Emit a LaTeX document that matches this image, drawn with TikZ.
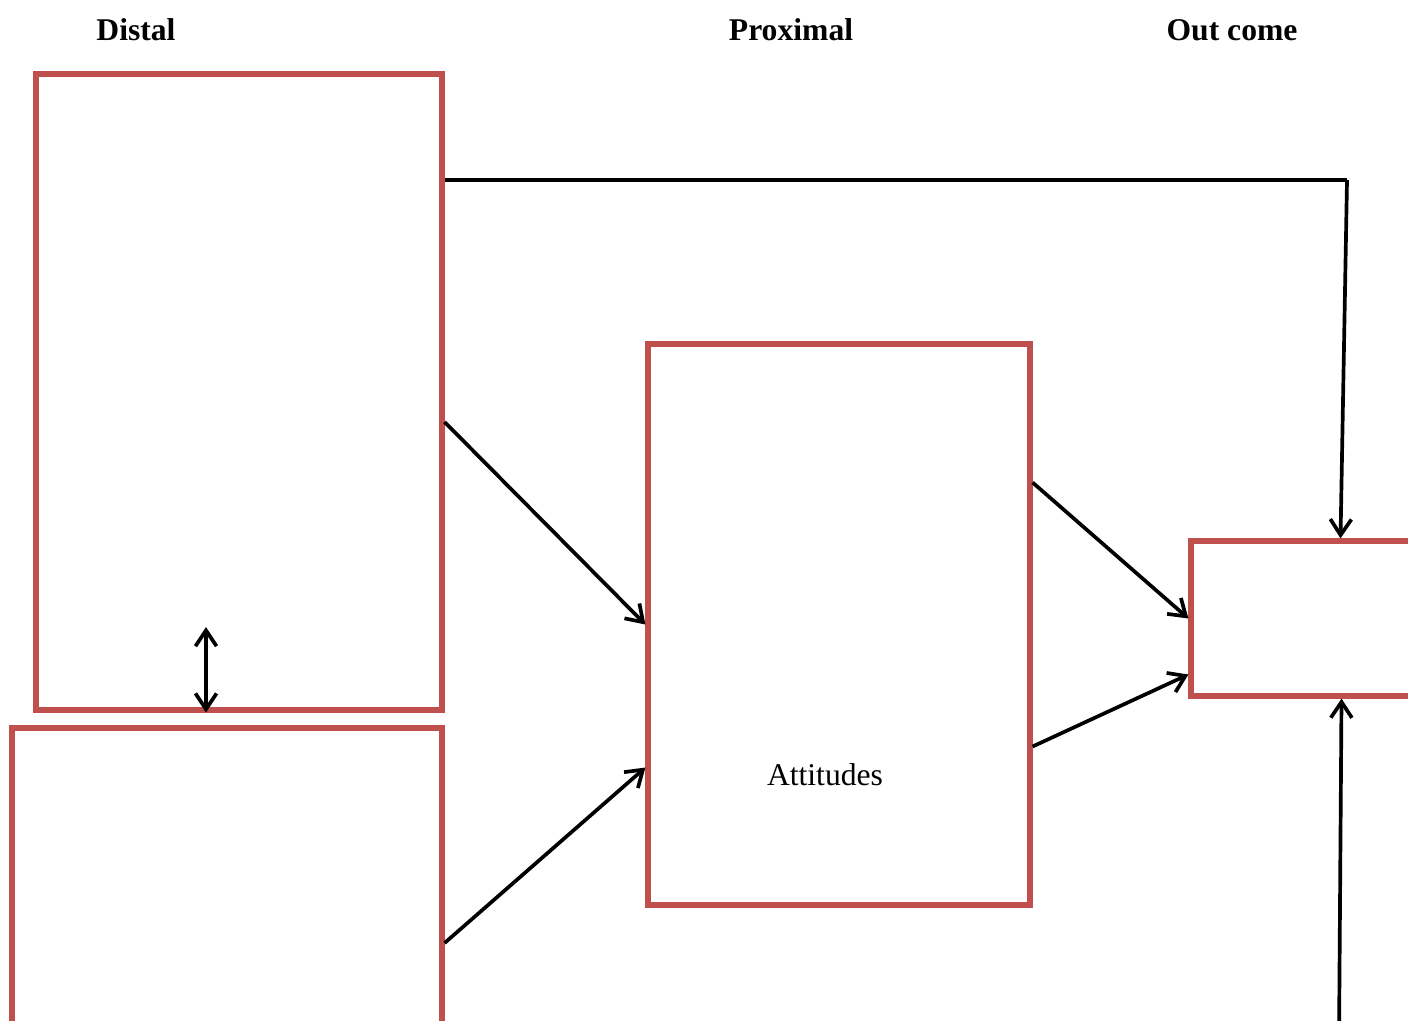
\documentclass[tikz,border=0pt]{standalone}
\usepackage{fontspec}
\setmainfont{Liberation Serif}
\usetikzlibrary{arrows.meta,calc}
\definecolor{boxred}{RGB}{192,80,77}
\tikzset{
  factor/.style={draw=boxred, line width=3pt, inner sep=0pt},
  head/.style={font=\fontsize{18}{22}\selectfont\bfseries},
  link/.style={line width=2.1pt}
}
\begin{document}
\begin{tikzpicture}[x=0.02cm, y=-0.02cm, >={Straight Barb[length=9pt,width=12pt]}]
\useasboundingbox (0,0) rectangle (1408,1020);
\clip (0,0) rectangle (1408,1020);
\node[head] (distal) at (136,30) {Distal};
\node[head] (proximal) at (791,30) {Proximal};
\node[head] (outcome) at (1232,30) {Out come};
\node[factor, minimum width=8.12cm, minimum height=12.72cm] (upper) at (239,392) {};
\node[factor, minimum width=8.6cm, minimum height=7.84cm] (lower) at (227,924) {};
\node[factor, minimum width=7.64cm, minimum height=11.22cm] (attitude) at (839,624.5) {};
\node[font=\fontsize{18}{22}\selectfont] (attlabel) at (825,775) {Attitudes};
\node[factor, minimum width=6.18cm, minimum height=3.1cm] (result) at (1345.5,618.5) {};
\coordinate (corner) at (1347,180);
\coordinate (below) at (1339,1040);
\coordinate (link) at (206,627);
\draw[link] (upper.east |- corner) -- (corner);
\draw[link, ->] (corner) -- ($(result.north)+(-5,0)$);
\draw[link, ->] ($(upper.east)+(0,30)$) -- (attitude.west);
\draw[link, ->] ($(lower.east)+(0,19)$) -- ($(attitude.west)+(0,143)$);
\draw[link, ->] ($(attitude.east)+(0,-142)$) -- (result.west);
\draw[link, ->] ($(attitude.east)+(0,122)$) -- ($(result.west)+(0,56)$);
\draw[link, ->] (below) -- ($(result.south)+(-4,0)$);
\draw[link, <->] (link) -- (link |- upper.south);
\end{tikzpicture}
\end{document}
